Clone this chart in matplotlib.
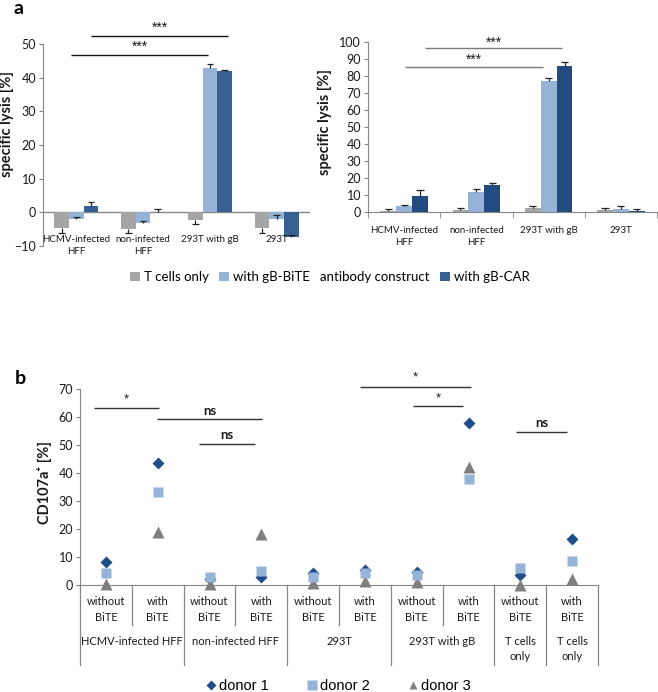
import matplotlib
matplotlib.use("Agg")
import matplotlib.pyplot as plt
from matplotlib.lines import Line2D
from matplotlib.patches import Patch
import numpy as np

plt.rcParams["font.family"] = ["Lato", "DejaVu Sans"]

# ---------------------------------------------------------------------------
# Donnees - panneau a (lyse specifique)
# ---------------------------------------------------------------------------
cibles_a = ["HCMV-infected\nHFF", "non-infected\nHFF", "293T with gB", "293T"]
series_a = ["T cells only", "with gB-BiTE   antibody construct", "with gB-CAR"]

# gauche : valeurs et erreurs (signe = sens de la barre d'erreur)
gauche_tcells = [-4.7, -5.0, -2.3, -4.7]
gauche_bite = [-1.9, -3.1, 43.0, -1.9]
gauche_car = [2.0, 0.1, 41.9, -7.3]
gauche_err_tcells = [-1.4, -1.1, -1.2, -1.4]
gauche_err_bite = [0.5, 0.5, 1.0, 1.2]
gauche_err_car = [1.1, 1.0, 0.5, 0.6]

# droite
droite_tcells = [0.3, 1.0, 2.4, 1.0]
droite_bite = [3.5, 11.6, 77.1, 2.0]
droite_car = [9.4, 15.7, 86.1, 0.4]
droite_err_tcells = [1.3, 1.2, 1.0, 1.2]
droite_err_bite = [0.4, 2.1, 1.5, 1.3]
droite_err_car = [3.5, 1.4, 2.1, 1.4]

# ---------------------------------------------------------------------------
# Donnees - panneau b (CD107a+)
# ---------------------------------------------------------------------------
colonnes_b = ["without\nBiTE", "with\nBiTE"] * 5
groupes_b = ["HCMV-infected HFF", "non-infected HFF", "293T", "293T with gB",
             "T cells\nonly", "T cells\nonly"]
donneurs = ["donor 1", "donor 2", "donor 3"]
donneur1 = [8.1, 43.5, 2.3, 2.7, 4.4, 5.3, 4.6, 58.0, 3.6, 16.4]
donneur2 = [4.2, 33.1, 3.0, 5.1, 3.0, 4.3, 3.7, 37.7, 6.0, 8.6]
donneur3 = [0.4, 18.8, 0.4, 18.2, 0.8, 1.5, 1.0, 42.3, 0.1, 2.0]

# ---------------------------------------------------------------------------
# Couleurs
# ---------------------------------------------------------------------------
GRIS = "#a5a5a5"
BLEU_CLAIR = "#95b3d7"
BLEU_FONCE = "#376092"
BLEU_FONCE_D = "#234b7f"
AXE = "#868686"
TEXTE = "#1a1a1a"

fig = plt.figure(figsize=(6.58, 6.92), dpi=100)
W, H = 658.0, 692.0


def boite(x0, y_haut, x1, y_bas):
    """Axes en pixels (origine en haut a gauche) -> fraction de figure."""
    return [x0 / W, 1 - y_bas / H, (x1 - x0) / W, (y_bas - y_haut) / H]


def style_axe(ax, fs):
    for s in ["top", "right"]:
        ax.spines[s].set_visible(False)
    ax.spines["left"].set_color(AXE)
    ax.spines["bottom"].set_color(AXE)
    ax.tick_params(axis="y", direction="out", length=3, color=AXE,
                   labelsize=fs, labelcolor=TEXTE, pad=2)


def barres(ax, vals, errs, couleurs, largeur=0.22):
    # barre d'erreur d'un seul cote (comme Excel) : trait + chapeau au bout
    x = np.arange(len(cibles_a))
    cap = 0.05
    for j, (v, e, c) in enumerate(zip(vals, errs, couleurs)):
        xs = x + (j - 1) * largeur
        v = np.asarray(v)
        e = np.asarray(e)
        ax.bar(xs, v, width=largeur, color=c, zorder=2)
        ax.vlines(xs, v, v + e, color="#222222", lw=0.9, zorder=3)
        ax.hlines(v + e, xs - cap, xs + cap, color="#222222", lw=0.9, zorder=3)


def signif(ax, x0, x1, y, texte, dy, couleur, fs=8, poids="normal"):
    ax.plot([x0, x1], [y, y], color=couleur, lw=1.0, clip_on=False,
            solid_capstyle="butt")
    famille = ["Liberation Sans"] if "*" in texte else ["Lato"]
    ax.text((x0 + x1) / 2, y + dy, texte, ha="center", va="center",
            fontsize=fs, color=TEXTE, fontweight=poids, family=famille)


couleurs_a = [GRIS, BLEU_CLAIR, BLEU_FONCE]

# --- panneau a gauche ---
ax1 = fig.add_axes(boite(43, 44, 310, 246))
barres(ax1, [gauche_tcells, gauche_bite, gauche_car],
       [gauche_err_tcells, gauche_err_bite, gauche_err_car], couleurs_a)
style_axe(ax1, 9)
ax1.spines["bottom"].set_visible(False)
ax1.axhline(0, color=AXE, lw=1.0, zorder=1)
ax1.set_ylim(-10, 50)
ax1.set_yticks(range(-10, 51, 10))
ax1.set_xlim(-0.5, 3.5)
ax1.set_xticks([])
for i, lab in enumerate(cibles_a):
    ax1.text(i, 0.055, lab, transform=ax1.get_xaxis_transform(), ha="center",
             va="top", fontsize=7, color=TEXTE, linespacing=1.45)
signif(ax1, -0.08, 1.97, 46.8, "***", 2.4, "#111111", fs=10)
signif(ax1, 0.22, 2.27, 52.4, "***", 2.4, "#111111", fs=10)

# --- panneau a droite ---
ax2 = fig.add_axes(boite(368, 42, 657, 212))
barres(ax2, [droite_tcells, droite_bite, droite_car],
       [droite_err_tcells, droite_err_bite, droite_err_car],
       [GRIS, BLEU_CLAIR, BLEU_FONCE_D])
style_axe(ax2, 9)
ax2.set_ylim(0, 100)
ax2.set_yticks(range(0, 101, 10))
ax2.set_xlim(-0.5, 3.5)
ax2.set_xticks(range(4))
ax2.set_xticklabels(cibles_a, fontsize=7, color=TEXTE, linespacing=1.45)
ax2.set_xticks(np.arange(-0.5, 3.6, 1.0), minor=True)
ax2.tick_params(axis="x", which="major", length=0, pad=10)
ax2.tick_params(axis="x", which="minor", length=4, color=AXE)
signif(ax2, 0.01, 1.92, 85.5, "***", 4.2, "#7a7a7a", fs=10)
signif(ax2, 0.29, 2.19, 96.6, "***", 3.2, "#7a7a7a", fs=10)

fig.text(7 / W, 1 - 124 / H, "specific lysis [%]", rotation=90, ha="center",
         va="center", fontsize=10.5, fontweight="bold", color=TEXTE)
fig.text(325 / W, 1 - 122 / H, "specific lysis [%]", rotation=90,
         ha="center", va="center", fontsize=10.5, fontweight="bold",
         color=TEXTE)
fig.text(19 / W, 1 - 9 / H, "a", ha="center", va="center", fontsize=14,
         fontweight="bold")

poignees_a = [Patch(facecolor=c, edgecolor="none") for c in couleurs_a]
fig.legend(poignees_a, series_a, loc="center", ncol=3,
           bbox_to_anchor=(330 / W, 1 - 277 / H), frameon=False,
           fontsize=9.5, handlelength=0.75, handleheight=0.75,
           handletextpad=0.3, columnspacing=0.8, borderpad=0)

# --- panneau b ---
ax3 = fig.add_axes(boite(80, 389, 598, 585))
x = np.arange(len(colonnes_b))
ax3.plot(x, donneur3, ls="none", marker="^", ms=8, color="#7f7f7f",
         mec="none", clip_on=False, zorder=3)
ax3.plot(x, donneur2, ls="none", marker="s", ms=7.5, color=BLEU_CLAIR,
         mec="none", clip_on=False, zorder=4)
ax3.plot(x, donneur1, ls="none", marker="D", ms=6.5, color="#1f4e8a",
         mec="none", clip_on=False, zorder=2)
style_axe(ax3, 9)
ax3.set_ylim(0, 70)
ax3.set_yticks(range(0, 71, 10))
ax3.set_xlim(-0.5, 9.5)
ax3.set_xticks([])

tr = ax3.get_xaxis_transform()
bords_ext = [-0.5, 1.5, 3.5, 5.5, 7.5, 8.5, 9.5]
bords_int = [0.5, 2.5, 4.5, 6.5]
for b in bords_ext:
    ax3.plot([b, b], [0, -0.408], transform=tr, color=AXE, lw=0.9,
             clip_on=False)
for b in bords_int:
    ax3.plot([b, b], [0, -0.204], transform=tr, color=AXE, lw=0.9,
             clip_on=False)
for i, lab in enumerate(colonnes_b):
    ax3.text(i, -0.125, lab, transform=tr, ha="center", va="center",
             fontsize=8, color=TEXTE, linespacing=1.45)
centres_groupes = [0.5, 2.5, 4.5, 6.5, 8, 9]
for c, lab in zip(centres_groupes, groupes_b):
    yy = -0.286 if "\n" not in lab else -0.327
    ax3.text(c, yy, lab, transform=tr, ha="center", va="center",
             fontsize=8, color=TEXTE, linespacing=1.45)

signif(ax3, -0.23, 1.02, 63.3, "*", 2.8, "#333333", fs=9.5)
signif(ax3, 0.98, 3.02, 59.2, "ns", 3.0, "#333333", fs=9.5, poids="bold")
signif(ax3, 1.80, 2.87, 50.4, "ns", 3.2, "#333333", fs=9.5, poids="bold")
signif(ax3, 4.90, 7.04, 70.8, "*", 3.2, "#333333", fs=9.5)
signif(ax3, 5.92, 6.90, 63.9, "*", 2.6, "#333333", fs=9.5)
signif(ax3, 7.92, 8.90, 54.5, "ns", 3.5, "#333333", fs=9.5, poids="bold")

fig.text(45 / W, 1 - 483 / H, "CD107a\u207a [%]", rotation=90, ha="center",
         va="center", fontsize=10.5, fontweight="bold", color=TEXTE)
fig.text(20 / W, 1 - 378 / H, "b", ha="center", va="center", fontsize=14,
         fontweight="bold")

poignees_b = [
    Line2D([0], [0], ls="none", marker="D", ms=5, color="#1f4e8a", mec="none"),
    Line2D([0], [0], ls="none", marker="s", ms=7, color=BLEU_CLAIR, mec="none"),
    Line2D([0], [0], ls="none", marker="^", ms=6, color="#7f7f7f", mec="none"),
]
fig.legend(poignees_b, donneurs, loc="center", ncol=3,
           bbox_to_anchor=(339 / W, 1 - 686 / H), frameon=False,
           prop={"family": ["Liberation Sans"], "size": 10.5},
           handlelength=0.5, handletextpad=0.3, columnspacing=2.7,
           borderpad=0)

fig.savefig("out.png", dpi=100)
